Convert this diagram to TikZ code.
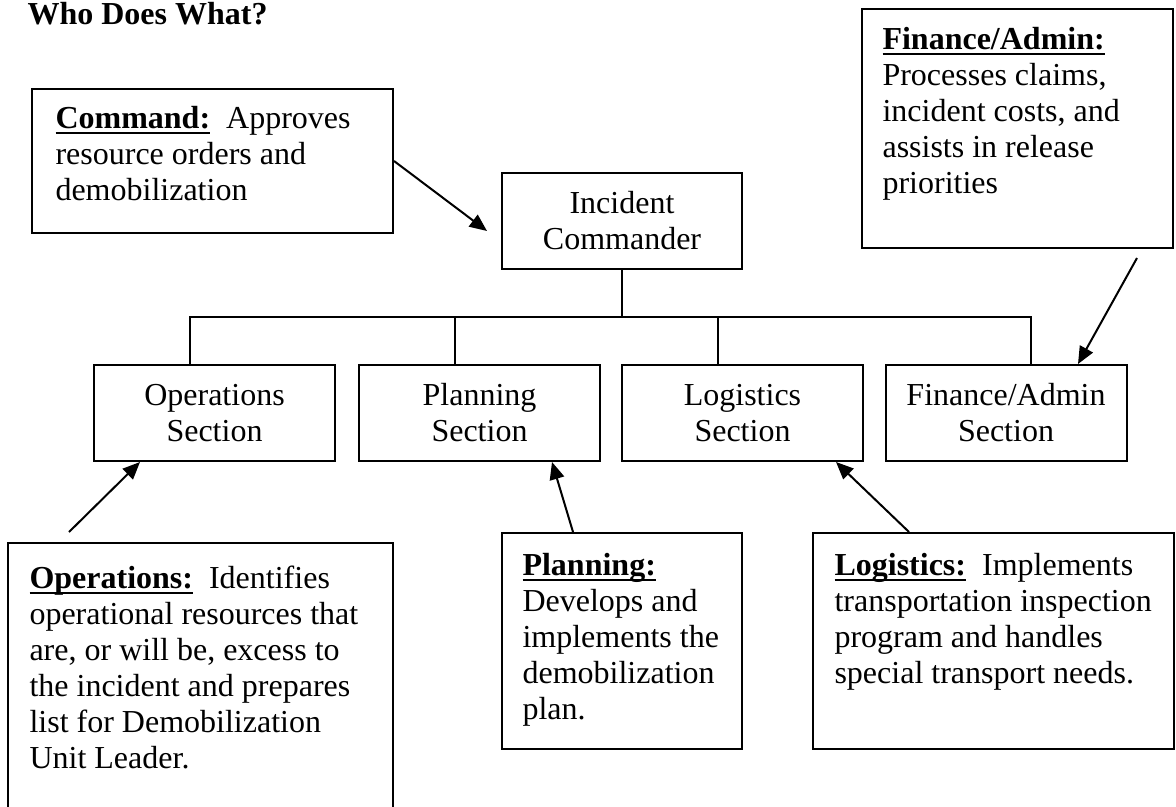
\documentclass[tikz,border=0pt]{standalone}
\usepackage{fontspec}
\setmainfont{Liberation Serif}
\usetikzlibrary{arrows.meta,calc}
\newdimen\px \px=0.375pt
\newcommand{\headword}[1]{\setbox0\hbox{\textbf{#1}}\rlap{\rule[-2.2pt]{\wd0}{0.8pt}}\box0}
\tikzset{
  box/.style={draw, line width=0.75pt, inner sep=0pt},
  secbox/.style={box, minimum width=241\px, minimum height=96\px, align=center,
    font=\fontsize{12}{13.5}\selectfont},
  notetxt/.style={anchor=north west, inner sep=0pt, align=left,
    font=\fontsize{12}{13.5}\selectfont},
  link/.style={line width=0.75pt},
  arr/.style={line width=0.75pt, -{Triangle[length=6.5pt,width=5.5pt]}}
}
\begin{document}
\begin{tikzpicture}[x=0.375pt,y=-0.375pt]
\useasboundingbox (0,0) rectangle (1176,806);
\clip (0,0) rectangle (1176,806);
\node[anchor=base west, inner sep=0pt, font=\fontsize{12}{13.5}\selectfont\bfseries] (title) at (27,25) {Who Does What?};
% chart
\node[secbox, minimum width=240\px] (ic) at (622,221) {Incident\\Commander};
\node[secbox] (opsec) at (214.5,413) {Operations\\Section};
\node[secbox] (plansec) at (479.5,413) {Planning\\Section};
\node[secbox] (logsec) at (742.5,413) {Logistics\\Section};
\node[secbox] (finsec) at (1006,413) {Finance/Admin\\Section};
\coordinate (bus) at (622,317);
\draw[link] (ic.south) -- (bus);
\draw[link] ($(opsec.north)+(-24.5,0)$) |- (bus);
\draw[link] ($(plansec.north)+(-24.5,0)$) -- ($(plansec.north)+(-24.5,-48)$);
\draw[link] ($(logsec.north)+(-24.5,0)$) -- ($(logsec.north)+(-24.5,-48)$);
\draw[link] ($(finsec.north)+(25,0)$) |- (bus);
% notes
\node[box, minimum width=361\px, minimum height=144\px] (cmd) at (212.5,161) {};
\node[notetxt] (cmdtxt) at (55,101.3) {\rule{0pt}{10pt}\headword{Command:}\hspace{6pt}Approves\\resource orders and\\demobilization};
\node[box, minimum width=311\px, minimum height=239\px] (finnote) at (1017.5,128.5) {};
\node[notetxt] (fintxt) at (882,22.3) {\rule{0pt}{10pt}\headword{Finance/Admin:}\\Processes claims,\\incident costs, and\\assists in release\\priorities};
\node[box, minimum width=385\px, minimum height=300\px] (opsnote) at (200.5,693) {};
\node[notetxt] (opstxt) at (29,561.3) {\rule{0pt}{10pt}\headword{Operations:}\hspace{6pt}Identifies\\operational resources that\\are, or will be, excess to\\the incident and prepares\\list for Demobilization\\Unit Leader.};
\node[box, minimum width=240\px, minimum height=216\px] (plannote) at (622,641) {};
\node[notetxt] (plantxt) at (522,548.3) {\rule{0pt}{10pt}\headword{Planning:}\\Develops and\\implements the\\demobilization\\plan.};
\node[box, minimum width=361\px, minimum height=216\px] (lognote) at (993.5,641) {};
\node[notetxt] (logtxt) at (834,548.3) {\rule{0pt}{10pt}\headword{Logistics:}\hspace{6pt}Implements\\transportation inspection\\program and handles\\special transport needs.};
% arrows
\draw[arr] (cmd.east) -- ($(ic.west)+(-14,10)$);
\draw[arr] ($(finnote.south)+(119.5,9)$) -- ($(finsec.north)+(72,0)$);
\draw[arr] ($(opsnote.north west)+(62,-10)$) -- ($(opsec.south west)+(47,0)$);
\draw[arr] ($(plannote.north)+(-49,0)$) -- ($(plansec.south)+(72.5,0)$);
\draw[arr] ($(lognote.north)+(-84.5,0)$) -- ($(logsec.south)+(93.5,0)$);
\end{tikzpicture}
\end{document}
